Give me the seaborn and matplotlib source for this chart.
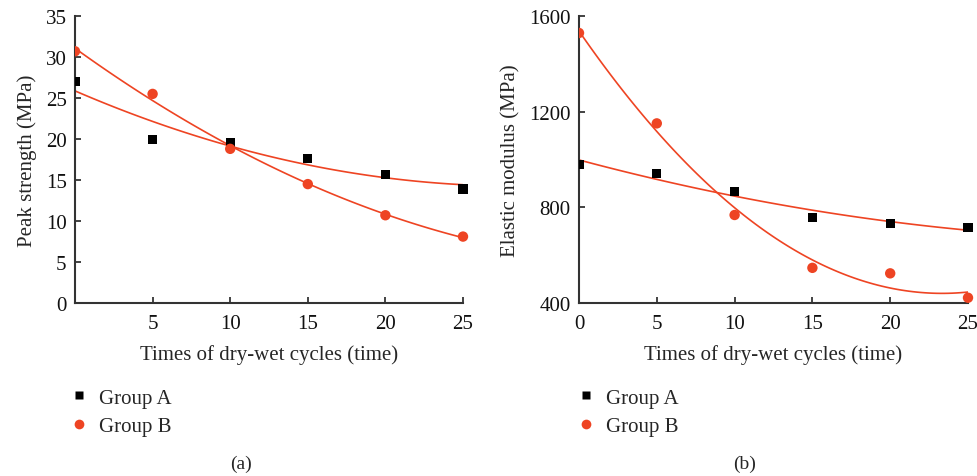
import numpy as np
import pandas as pd
import matplotlib
matplotlib.use("Agg")
import matplotlib.pyplot as plt
from matplotlib.lines import Line2D
from matplotlib.transforms import Bbox, TransformedBbox
import seaborn as sns

# Dry-wet cycle counts
cycles = [0, 5, 10, 15, 20, 25]

# Peak strength (MPa)
strength_a = [27.0, 19.9, 19.6, 17.6, 15.7, 13.9]
strength_b = [30.7, 25.5, 18.8, 14.5, 10.7, 8.1]

# Elastic modulus (MPa)
modulus_a = [980, 943, 865, 759, 731, 717]
modulus_b = [1529, 1151, 768, 547, 524, 422]

group_names = ["Group A", "Group B"]

sns.set_theme(style="ticks")
plt.rcParams["font.family"] = ["Liberation Serif", "DejaVu Serif"]

BLACK = "#000000"
RED = "#EE4423"
FS = 15

fig = plt.figure(figsize=(9.78, 4.77), dpi=100)
ax1 = fig.add_axes([75 / 978, 1 - 304 / 477, 388 / 978, 287 / 477])
ax2 = fig.add_axes([579 / 978, 1 - 304 / 477, 389 / 978, 287 / 477])


def draw_panel(ax, ya, yb, ylabel, ylim, yticks, xticks):
    # second-order polynomial fit for each group
    for vals in (ya, yb):
        sns.regplot(x=cycles, y=vals, order=2, ci=None, scatter=False, ax=ax,
                    line_kws=dict(color=RED, lw=1.2), truncate=True)
    sns.scatterplot(x=cycles, y=ya, marker="s", color=BLACK, s=44,
                    edgecolor="none", ax=ax, zorder=3)
    sns.scatterplot(x=cycles, y=yb, marker="o", color=RED, s=56,
                    edgecolor="none", ax=ax, zorder=3)
    # markers are cut at the y axis but may overhang the right end
    clip = TransformedBbox(Bbox([[0, -0.1], [1.1, 1.1]]), ax.transAxes)
    for coll in ax.collections:
        coll.set_clip_path(None)
        coll.set_clip_box(clip)
    ax.set_xlim(0, 25)
    ax.set_ylim(*ylim)
    ax.set_xticks(xticks)
    ax.set_yticks(yticks)
    ax.set_xlabel("Times of dry-wet cycles (time)", fontsize=FS, labelpad=8)
    ax.set_ylabel(ylabel, fontsize=FS, labelpad=6)
    ax.tick_params(direction="in", length=4, width=1.2, labelsize=FS,
                   colors="#222222", labelcolor="#111111")
    ax.tick_params(axis="x", pad=8)
    ax.tick_params(axis="y", pad=6)
    for s in ("top", "right"):
        ax.spines[s].set_visible(False)
    for s in ("left", "bottom"):
        ax.spines[s].set_linewidth(1.5)
        ax.spines[s].set_color("#333333")


draw_panel(ax1, strength_a, strength_b, "Peak strength (MPa)", (0, 35),
           [0, 5, 10, 15, 20, 25, 30, 35], [5, 10, 15, 20, 25])
draw_panel(ax2, modulus_a, modulus_b, "Elastic modulus (MPa)", (400, 1600),
           [400, 800, 1200, 1600], [0, 5, 10, 15, 20, 25])

handles = [Line2D([], [], ls="none", marker="s", ms=5.5, color=BLACK, mec="none"),
           Line2D([], [], ls="none", marker="o", ms=7, color=RED, mec="none")]

for ax, x0 in ((ax1, 70 / 978), (ax2, 577 / 978)):
    ax.legend(handles, group_names, loc="upper left",
              bbox_to_anchor=(x0, 1 - 389 / 477), bbox_transform=fig.transFigure,
              frameon=False, fontsize=FS, handlelength=0.9, handletextpad=0.5,
              labelspacing=0.42, borderaxespad=0, borderpad=0)

fig.text(241 / 978, 1 - 464 / 477, "(a)", ha="center", va="center", fontsize=FS - 1)
fig.text(745 / 978, 1 - 464 / 477, "(b)", ha="center", va="center", fontsize=FS - 1)

fig.savefig("out.png", dpi=100)
